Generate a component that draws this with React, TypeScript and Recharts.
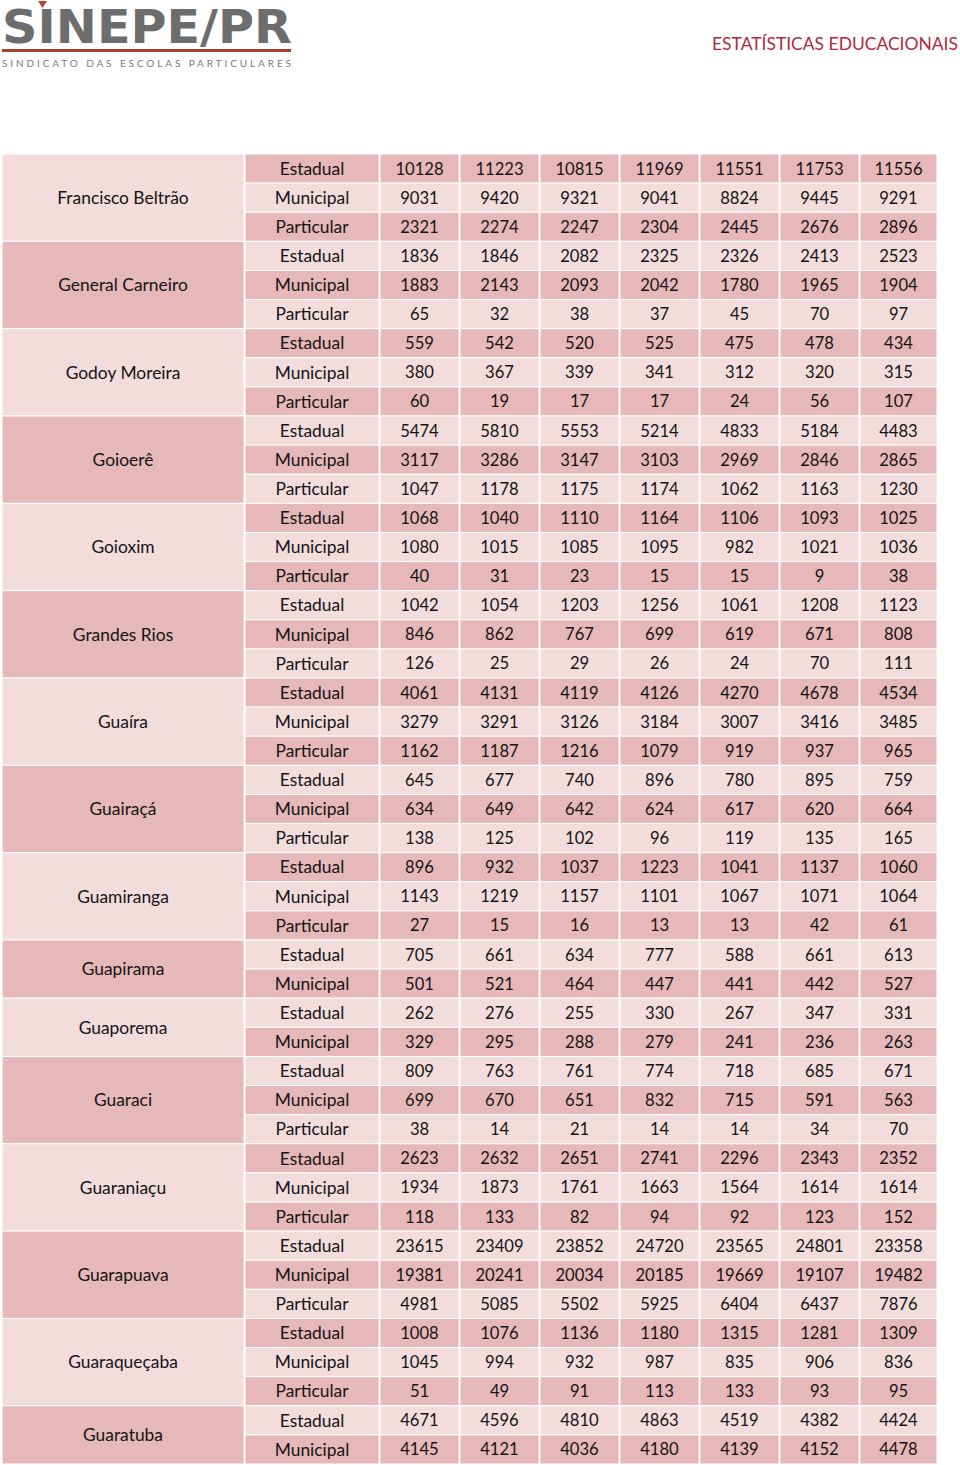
import { ScatterChart, Scatter, XAxis, YAxis, ReferenceArea } from 'recharts';

// municipalities, in table order
const CITIES = [
  'Francisco Beltrão', 'General Carneiro', 'Godoy Moreira', 'Goioerê', 'Goioxim', 'Grandes Rios',
  'Guaíra', 'Guairaçá', 'Guamiranga', 'Guapirama', 'Guaporema', 'Guaraci', 'Guaraniaçu',
  'Guarapuava', 'Guaraqueçaba', 'Guaratuba',
];

const EMP = ['Estadual', 'Municipal', 'Particular'];
const EM = ['Estadual', 'Municipal'];

// school network rows shown for each municipality
const CITY_TYPES = [EMP, EMP, EMP, EMP, EMP, EMP, EMP, EMP, EMP, EM, EM, EMP, EMP, EMP, EMP, EM];

// one row per network, seven yearly values
const VALUES = [
  [10128, 11223, 10815, 11969, 11551, 11753, 11556],
  [9031, 9420, 9321, 9041, 8824, 9445, 9291],
  [2321, 2274, 2247, 2304, 2445, 2676, 2896],
  [1836, 1846, 2082, 2325, 2326, 2413, 2523],
  [1883, 2143, 2093, 2042, 1780, 1965, 1904],
  [65, 32, 38, 37, 45, 70, 97],
  [559, 542, 520, 525, 475, 478, 434],
  [380, 367, 339, 341, 312, 320, 315],
  [60, 19, 17, 17, 24, 56, 107],
  [5474, 5810, 5553, 5214, 4833, 5184, 4483],
  [3117, 3286, 3147, 3103, 2969, 2846, 2865],
  [1047, 1178, 1175, 1174, 1062, 1163, 1230],
  [1068, 1040, 1110, 1164, 1106, 1093, 1025],
  [1080, 1015, 1085, 1095, 982, 1021, 1036],
  [40, 31, 23, 15, 15, 9, 38],
  [1042, 1054, 1203, 1256, 1061, 1208, 1123],
  [846, 862, 767, 699, 619, 671, 808],
  [126, 25, 29, 26, 24, 70, 111],
  [4061, 4131, 4119, 4126, 4270, 4678, 4534],
  [3279, 3291, 3126, 3184, 3007, 3416, 3485],
  [1162, 1187, 1216, 1079, 919, 937, 965],
  [645, 677, 740, 896, 780, 895, 759],
  [634, 649, 642, 624, 617, 620, 664],
  [138, 125, 102, 96, 119, 135, 165],
  [896, 932, 1037, 1223, 1041, 1137, 1060],
  [1143, 1219, 1157, 1101, 1067, 1071, 1064],
  [27, 15, 16, 13, 13, 42, 61],
  [705, 661, 634, 777, 588, 661, 613],
  [501, 521, 464, 447, 441, 442, 527],
  [262, 276, 255, 330, 267, 347, 331],
  [329, 295, 288, 279, 241, 236, 263],
  [809, 763, 761, 774, 718, 685, 671],
  [699, 670, 651, 832, 715, 591, 563],
  [38, 14, 21, 14, 14, 34, 70],
  [2623, 2632, 2651, 2741, 2296, 2343, 2352],
  [1934, 1873, 1761, 1663, 1564, 1614, 1614],
  [118, 133, 82, 94, 92, 123, 152],
  [23615, 23409, 23852, 24720, 23565, 24801, 23358],
  [19381, 20241, 20034, 20185, 19669, 19107, 19482],
  [4981, 5085, 5502, 5925, 6404, 6437, 7876],
  [1008, 1076, 1136, 1180, 1315, 1281, 1309],
  [1045, 994, 932, 987, 835, 906, 836],
  [51, 49, 91, 113, 133, 93, 95],
  [4671, 4596, 4810, 4863, 4519, 4382, 4424],
  [4145, 4121, 4036, 4180, 4139, 4152, 4478],
];

// layout: column edges in x-axis units (axis spans the page width)
const COLS: [number, number][] = [
  [2, 244], [245, 379],
  [380, 459], [460, 539], [540, 619], [620, 699], [700, 779], [780, 859], [860, 937],
];

const DARK = '#e6b8ba';
const LIGHT = '#f2dcdc';
const FONT = 'Lato, "Open Sans", sans-serif';
const TOTAL_ROWS = VALUES.length;

interface Area { x1: number; x2: number; y1: number; y2: number; fill: string }
interface Cell { x: number; y: number; label: string; size: number }

const areas: Area[] = [];
const cells: Cell[] = [];
let row = 0;
CITIES.forEach((city, g) => {
  const types = CITY_TYPES[g];
  const [cx1, cx2] = COLS[0];
  areas.push({ x1: cx1, x2: cx2, y1: row - 0.5, y2: row + types.length - 0.5, fill: g % 2 ? DARK : LIGHT });
  cells.push({ x: (cx1 + cx2) / 2, y: row + (types.length - 1) / 2, label: city, size: 17.4 });
  types.forEach((t, k) => {
    const r = row + k;
    const fill = r % 2 === 0 ? DARK : LIGHT;
    const [tx1, tx2] = COLS[1];
    areas.push({ x1: tx1, x2: tx2, y1: r - 0.5, y2: r + 0.5, fill });
    cells.push({ x: (tx1 + tx2) / 2, y: r, label: t, size: 17.4 });
    VALUES[r].forEach((v, j) => {
      const [vx1, vx2] = COLS[j + 2];
      areas.push({ x1: vx1, x2: vx2, y1: r - 0.5, y2: r + 0.5, fill });
      cells.push({ x: (vx1 + vx2) / 2, y: r, label: String(v), size: 16.6 });
    });
  });
  row += types.length;
});

const CellText = (props: any) => {
  const { cx, cy, payload } = props;
  return (
    <text x={cx} y={cy} dy="0.36em" textAnchor="middle" fontFamily={FONT} fontSize={payload.size} fill="#141414">
      {payload.label}
    </text>
  );
};

const Header = () => (
  <svg width={960} height={150} style={{ position: 'absolute', left: 0, top: 0 }}>
    <text x={2} y={43} fontFamily='"DejaVu Sans", sans-serif' fontWeight={700} fontSize={46}
      fill="#6d6d6d" textLength={290} lengthAdjust="spacingAndGlyphs">SINEPE/PR</text>
    <path d="M38 1 L47 1 L42.5 8 Z" fill="#b4432f" />
    <rect x={2} y={49} width={289} height={3} fill="#a9402e" />
    <text x={2} y={67} fontFamily={FONT} fontSize={10} fill="#7a7a7a" textLength={289}
      lengthAdjust="spacing">SINDICATO DAS ESCOLAS PARTICULARES</text>
    <text x={958} y={50} textAnchor="end" fontFamily={FONT} fontSize={17} fill="#b02a3c"
      textLength={246} lengthAdjust="spacingAndGlyphs">ESTATÍSTICAS EDUCACIONAIS</text>
  </svg>
);

export default function App() {
  return (
    <div style={{ position: 'absolute', left: 0, top: 0, width: 960, height: 1465, background: '#fff' }}>
      <ScatterChart width={960} height={1465} margin={{ top: 154, right: 0, bottom: 1, left: 0 }}>
        <XAxis type="number" dataKey="x" domain={[0, 960]} allowDataOverflow hide />
        <YAxis type="number" dataKey="y" domain={[-0.5, TOTAL_ROWS - 0.5]} allowDataOverflow reversed hide />
        {areas.map((a, i) => (
          <ReferenceArea key={i} x1={a.x1} x2={a.x2} y1={a.y1} y2={a.y2}
            fill={a.fill} fillOpacity={1} stroke="#ffffff" strokeWidth={1} ifOverflow="visible" />
        ))}
        <Scatter data={cells} shape={CellText} isAnimationActive={false} />
      </ScatterChart>
      <Header />
    </div>
  );
}
